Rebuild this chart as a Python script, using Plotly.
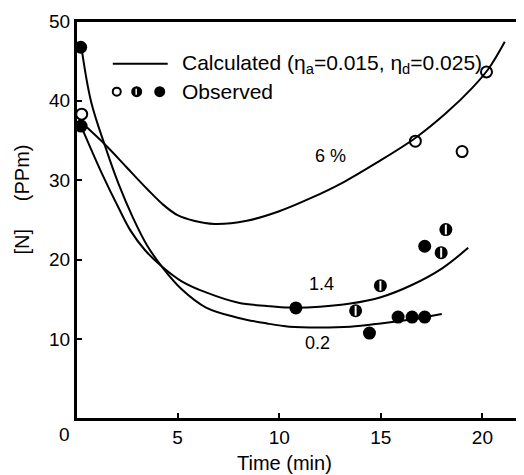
import plotly.graph_objects as go

# Calculated curves
c6_x = [0.25, 1.5, 2.5, 3.5, 4.3, 5.0, 5.8, 6.8, 8.4, 10.0, 11.6, 13.2, 14.8, 16.7, 18.2, 19.5, 20.3, 21.1]
c6_y = [37.3, 34.3, 31.6, 28.9, 26.9, 25.6, 24.9, 24.5, 24.9, 26.1, 27.8, 29.8, 32.2, 35.3, 38.4, 41.6, 44.0, 47.4]

c14_x = [0.25, 1.3, 2.1, 2.7, 3.4, 4.3, 5.2, 6.4, 8.0, 9.4, 10.5, 12.0, 13.5, 15.0, 16.5, 18.0, 19.3]
c14_y = [36.8, 30.7, 26.5, 23.6, 21.2, 19.0, 17.3, 15.9, 14.6, 14.2, 14.0, 14.1, 14.5, 15.3, 16.8, 18.9, 21.5]

c02_x = [0.25, 0.74, 1.47, 2.1, 2.8, 3.5, 4.3, 5.2, 6.4, 8.0, 9.4, 10.5, 12.0, 13.5, 15.0, 16.5, 18.0]
c02_y = [47.0, 39.9, 34.0, 29.5, 25.3, 21.8, 18.9, 16.3, 14.0, 12.7, 12.0, 11.6, 11.5, 11.6, 12.0, 12.5, 13.2]

# Observed points
open_x = [0.28, 16.7, 19.0, 20.2]
open_y = [38.3, 34.9, 33.6, 43.6]

half_x = [13.76, 14.98, 17.97, 18.2]
half_y = [13.6, 16.75, 20.9, 23.8]

full_x = [0.23, 0.25, 10.82, 14.44, 15.85, 16.54, 17.16, 17.16]
full_y = [46.7, 36.8, 13.96, 10.8, 12.8, 12.8, 12.8, 21.7]

x_ticks = [5, 10, 15, 20]
y_ticks = [10, 20, 30, 40, 50]

FONT = "Liberation Sans"
fig = go.Figure()

for cx, cy in [(c6_x, c6_y), (c14_x, c14_y), (c02_x, c02_y)]:
    fig.add_trace(go.Scatter(x=cx, y=cy, mode="lines",
                             line=dict(color="black", width=2, shape="spline", smoothing=1.0),
                             cliponaxis=False, showlegend=False, hoverinfo="skip"))

fig.add_trace(go.Scatter(x=open_x, y=open_y, mode="markers",
                         marker=dict(symbol="circle-open", size=11, color="black", line=dict(width=2)),
                         cliponaxis=False, showlegend=False))
fig.add_trace(go.Scatter(x=full_x, y=full_y, mode="markers",
                         marker=dict(symbol="circle", size=13, color="black"),
                         cliponaxis=False, showlegend=False))
fig.add_trace(go.Scatter(x=half_x, y=half_y, mode="markers",
                         marker=dict(symbol="circle", size=13, color="black"),
                         cliponaxis=False, showlegend=False))
fig.add_trace(go.Scatter(x=half_x, y=half_y, mode="markers",
                         marker=dict(symbol="line-ns", size=7, color="white",
                                     line=dict(color="white", width=2)),
                         cliponaxis=False, showlegend=False))

axis_common = dict(showline=True, mirror=True, linecolor="black", linewidth=2,
                   ticks="inside", ticklen=6, tickwidth=2, tickcolor="black",
                   showgrid=False, zeroline=False,
                   tickfont=dict(family=FONT, size=19, color="black"))

# page body has an 8px margin: size and margins compensate so the plot area
# lands at x 76..521, y 19..419 of the window
fig.update_layout(
    width=516, height=467,
    margin=dict(l=68, r=3, t=11, b=56),
    paper_bgcolor="white", plot_bgcolor="white",
    xaxis=dict(range=[0, 21.8], tickvals=x_ticks, **axis_common),
    yaxis=dict(range=[0, 50], tickvals=y_ticks, **axis_common),
    font=dict(family=FONT, color="black"),
)

ann = []
ann.append(dict(x=0.47, y=-0.11, xref="paper", yref="paper", text="Time (min)",
                showarrow=False, font=dict(size=20), xanchor="center", yanchor="middle"))
ann.append(dict(x=-0.121, y=0.5525, xref="paper", yref="paper", text="[N]     (PPm)",
                textangle=-90, showarrow=False, font=dict(size=20), xanchor="center", yanchor="middle"))
ann.append(dict(x=-0.025, y=-0.04, xref="paper", yref="paper", text="0",
                showarrow=False, font=dict(size=19), xanchor="center", yanchor="middle"))
ann.append(dict(x=12.5, y=33, text="6 %", showarrow=False, font=dict(size=18)))
ann.append(dict(x=12.1, y=17, text="1.4", showarrow=False, font=dict(size=18)))
ann.append(dict(x=11.9, y=9.5, text="0.2", showarrow=False, font=dict(size=18)))
ann.append(dict(x=0.234, y=0.8925, xref="paper", yref="paper",
                text="Calculated (η<sub>a</sub>=0.015, η<sub>d</sub>=0.025)",
                showarrow=False, font=dict(size=21), xanchor="left", yanchor="middle"))
ann.append(dict(x=0.234, y=0.8225, xref="paper", yref="paper", text="Observed",
                showarrow=False, font=dict(size=21), xanchor="left", yanchor="middle"))
fig.update_layout(annotations=ann)

shapes = []
# plot frame
shapes.append(dict(type="rect", xref="paper", yref="paper", x0=0, x1=1, y0=0, y1=1,
                   line=dict(color="black", width=2), fillcolor="rgba(0,0,0,0)", layer="above"))
shapes.append(dict(type="line", xref="paper", yref="paper", x0=0.083, x1=0.207,
                   y0=0.8925, y1=0.8925, line=dict(color="black", width=2)))
def circ(xc, filled, r=4.5):
    return dict(type="circle", xref="paper", yref="paper", xsizemode="pixel", ysizemode="pixel",
                xanchor=xc, yanchor=0.8225, x0=-r, x1=r, y0=-r, y1=r,
                line=dict(color="black", width=2), fillcolor="black" if filled else "white")
shapes.append(circ(0.092, False, 4))
shapes.append(circ(0.137, True))
shapes.append(dict(type="line", xref="paper", yref="paper", xsizemode="pixel", ysizemode="pixel",
                   xanchor=0.137, yanchor=0.8225, x0=-0.5, x1=-0.5, y0=-3, y1=3,
                   line=dict(color="white", width=1.5)))
shapes.append(circ(0.189, True))
fig.update_layout(shapes=shapes)

fig.write_html("out.html")
